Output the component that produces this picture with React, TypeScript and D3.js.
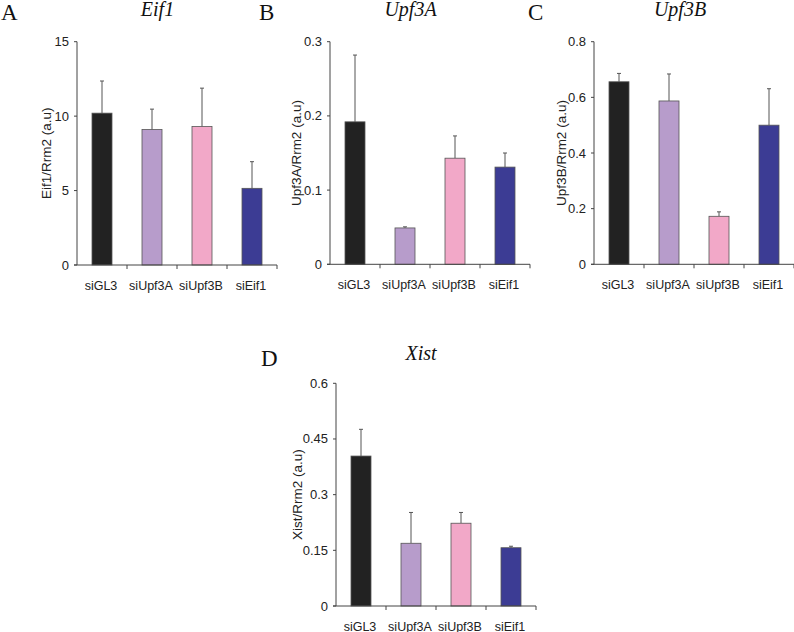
import React from "react";
import * as d3 from "d3";

const categories = ["siGL3", "siUpf3A", "siUpf3B", "siEif1"];
const barColors = ["#222222", "#b79ccb", "#f2a8c8", "#3c3c94"];

const eif1Values = [10.2, 9.1, 9.3, 5.15];
const eif1Errors = [2.16, 1.37, 2.58, 1.79];
const eif1Ticks = [0, 5, 10, 15];
const eif1TickLabels = ["0", "5", "10", "15"];

const upf3aValues = [0.192, 0.049, 0.143, 0.131];
const upf3aErrors = [0.09, 0.0015, 0.03, 0.019];
const upf3aTicks = [0, 0.1, 0.2, 0.3];
const upf3aTickLabels = ["0", "0.1", "0.2", "0.3"];

const upf3bValues = [0.656, 0.587, 0.1725, 0.5];
const upf3bErrors = [0.03, 0.097, 0.016, 0.131];
const upf3bTicks = [0, 0.2, 0.4, 0.6, 0.8];
const upf3bTickLabels = ["0", "0.2", "0.4", "0.6", "0.8"];

const xistValues = [0.404, 0.169, 0.223, 0.157];
const xistErrors = [0.072, 0.083, 0.029, 0.004];
const xistTicks = [0, 0.15, 0.3, 0.45, 0.6];
const xistTickLabels = ["0", "0.15", "0.3", "0.45", "0.6"];

const panels = [
  { letter: "A", title: "Eif1", ylabel: "Eif1/Rrm2 (a.u)", values: eif1Values, errors: eif1Errors, ticks: eif1Ticks, tickLabels: eif1TickLabels,
    x0: 77, yTop: 41.7, yBottom: 265, letterX: 1, letterY: 19.5, titleX: 157.5, titleY: 16, ylabOff: 31 },
  { letter: "B", title: "Upf3A", ylabel: "Upf3A/Rrm2 (a.u)", values: upf3aValues, errors: upf3aErrors, ticks: upf3aTicks, tickLabels: upf3aTickLabels,
    x0: 330, yTop: 41.7, yBottom: 264.3, letterX: 259, letterY: 19.5, titleX: 410.5, titleY: 16, ylabOff: 34 },
  { letter: "C", title: "Upf3B", ylabel: "Upf3B/Rrm2 (a.u)", values: upf3bValues, errors: upf3bErrors, ticks: upf3bTicks, tickLabels: upf3bTickLabels,
    x0: 594, yTop: 41.7, yBottom: 264.3, letterX: 528, letterY: 19.5, titleX: 680, titleY: 16, ylabOff: 33 },
  { letter: "D", title: "Xist", ylabel: "Xist/Rrm2 (a.u)", values: xistValues, errors: xistErrors, ticks: xistTicks, tickLabels: xistTickLabels,
    x0: 336, yTop: 383.3, yBottom: 606, letterX: 261, letterY: 366, titleX: 421, titleY: 360, ylabOff: 39 },
];

const sans = "'Liberation Sans', Arial, sans-serif";
const serif = "'Liberation Serif', 'Times New Roman', serif";

function Panel({ p }: { p: (typeof panels)[number] }) {
  const x = d3.scaleBand<string>().domain(categories).range([p.x0, p.x0 + 200]).paddingInner(0.6).paddingOuter(0.3);
  const max = p.ticks[p.ticks.length - 1];
  const y = d3.scaleLinear().domain([0, max]).range([p.yBottom, p.yTop]);
  const step = x.step();
  const axisColor = "#444";
  return (
    <g>
      <text x={p.letterX} y={p.letterY} fontFamily={serif} fontSize={23} fill="#111">{p.letter}</text>
      <text x={p.titleX} y={p.titleY} fontFamily={serif} fontStyle="italic" fontSize={20} textAnchor="middle" fill="#111">{p.title}</text>
      <text transform={`translate(${p.x0 - p.ylabOff},${(p.yTop + p.yBottom) / 2}) rotate(-90)`} fontFamily={sans} fontSize={13.5}
        textAnchor="middle" dominantBaseline="central" fill="#222">{p.ylabel}</text>
      {categories.map((c, i) => {
        const bx = x(c)!;
        const v = p.values[i];
        const e = p.errors[i];
        const cx = bx + x.bandwidth() / 2;
        return (
          <g key={c}>
            <line x1={cx} x2={cx} y1={y(v)} y2={y(v + e)} stroke="#555" strokeWidth={1} />
            <line x1={cx - 2} x2={cx + 2} y1={y(v + e)} y2={y(v + e)} stroke="#555" strokeWidth={1} />
            <rect x={bx} y={y(v)} width={x.bandwidth()} height={p.yBottom - y(v)} fill={barColors[i]} stroke="#555" strokeWidth={0.8} />
            <text x={cx - 1} y={p.yBottom + 25} fontFamily={sans} fontSize={12.5} textAnchor="middle" fill="#222">{c}</text>
          </g>
        );
      })}
      <line x1={p.x0} x2={p.x0} y1={p.yTop} y2={p.yBottom} stroke={axisColor} strokeWidth={1} />
      <line x1={p.x0 - 3} x2={p.x0 + 200} y1={p.yBottom} y2={p.yBottom} stroke={axisColor} strokeWidth={1} />
      {p.ticks.map((t, i) => (
        <g key={t}>
          <line x1={p.x0 - 3} x2={p.x0} y1={y(t)} y2={y(t)} stroke={axisColor} strokeWidth={1} />
          <text x={p.x0 - 8} y={y(t)} fontFamily={sans} fontSize={13} textAnchor="end" dominantBaseline="central" fill="#222">{p.tickLabels[i]}</text>
        </g>
      ))}
      {[1, 2, 3, 4].map((k) => (
        <line key={k} x1={p.x0 + k * step} x2={p.x0 + k * step} y1={p.yBottom} y2={p.yBottom + 4} stroke={axisColor} strokeWidth={1} />
      ))}
    </g>
  );
}

export default function App() {
  return (
    <svg width={794} height={632} style={{ position: "absolute", left: 0, top: 0, background: "#fff" }}>
      <rect width={794} height={632} fill="#fff" />
      {panels.map((p) => (
        <Panel key={p.letter} p={p} />
      ))}
    </svg>
  );
}
